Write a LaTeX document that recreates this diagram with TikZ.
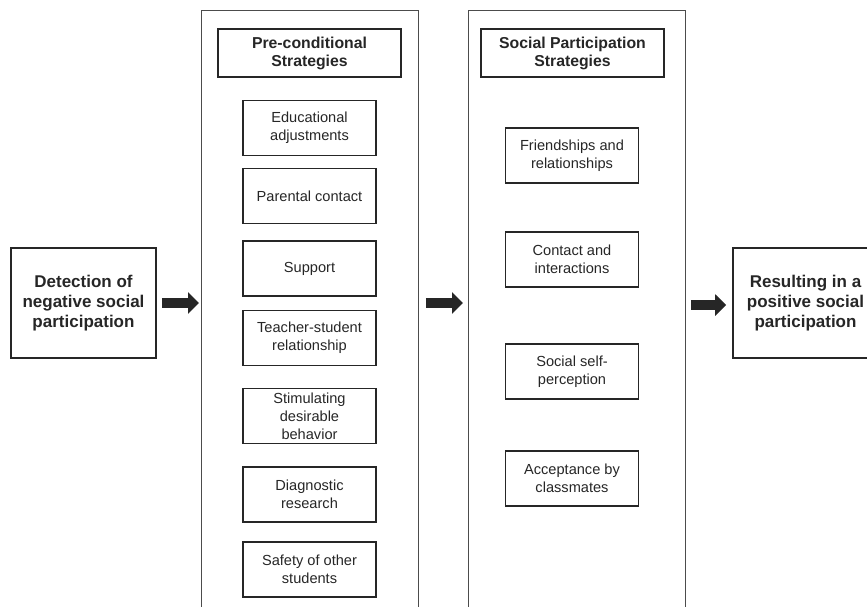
\documentclass[tikz,border=0pt]{standalone}
\usepackage{fontspec}
\setmainfont{Liberation Sans}
\usetikzlibrary{arrows.meta}
\tikzset{
  colbox/.style={draw=black!70, line width=0.9pt, minimum width=217pt, minimum height=640pt, anchor=north west, inner sep=0pt},
  innerbox/.style={draw=black!85, line width=1.7pt, minimum width=133pt, minimum height=55pt, align=center, text=black!85, inner sep=0pt, font=\fontsize{14.6}{18}\selectfont},
  titlebox/.style={draw=black!85, line width=1.7pt, minimum width=183pt, minimum height=48pt, align=center, text=black!85, inner sep=0pt, font=\bfseries\fontsize{15.8}{18}\selectfont},
  endbox/.style={draw=black!85, line width=1.7pt, minimum width=145pt, minimum height=110pt, align=center, text=black!85, inner sep=0pt, font=\bfseries\fontsize{17}{20}\selectfont},
  bigarrow/.style={draw=black!85, line width=10.5pt, -{Triangle[length=11pt,width=21pt]}, black!85}
}
\begin{document}
\begin{tikzpicture}[x=1pt,y=-1pt]
\useasboundingbox (0,0) rectangle (867,606);
\clip (0,0) rectangle (867,606);
% columns
\node[colbox] (colA) at (201,10) {};
\node[colbox] (colB) at (468,10) {};
% titles
\node[titlebox] (tA) at (309.5,53) {Pre-conditional\\Strategies};
\node[titlebox] (tB) at (572.5,53) {Social Participation\\Strategies};
% left column items
\node[innerbox] (a1) at (309.5,128) {Educational\\adjustments};
\node[innerbox] (a2) at (309.5,196) {Parental contact};
\node[innerbox] (a3) at (309.5,268.5) {Support};
\node[innerbox] (a4) at (309.5,338) {Teacher-student\\relationship};
\node[innerbox] (a5) at (309.5,416) {Stimulating\\desirable\\behavior};
\node[innerbox] (a6) at (309.5,494.5) {Diagnostic\\research};
\node[innerbox] (a7) at (309.5,569.5) {Safety of other\\students};
% right column items
\node[innerbox] (b1) at (572,155.5) {Friendships and\\relationships};
\node[innerbox] (b2) at (572,259.5) {Contact and\\interactions};
\node[innerbox] (b3) at (572,371.5) {Social self-\\perception};
\node[innerbox] (b4) at (572,478.5) {Acceptance by\\classmates};
% end boxes
\node[endbox] (start) at (83.5,303) {Detection of\\negative social\\participation};
\node[endbox] (result) at (805.5,303) {Resulting in a\\positive social\\participation};
% arrows
\draw[bigarrow] ([xshift=5pt]start.east) -- ([xshift=-2pt]colA.west |- start.east);
\draw[bigarrow] ([xshift=7pt]colA.east |- start.east) -- ([xshift=-5pt]colB.west |- start.east);
\draw[bigarrow] ([xshift=5pt,yshift=-2pt]colB.east |- result.west) -- ([xshift=-6pt,yshift=-2pt]result.west);
\end{tikzpicture}
\end{document}
